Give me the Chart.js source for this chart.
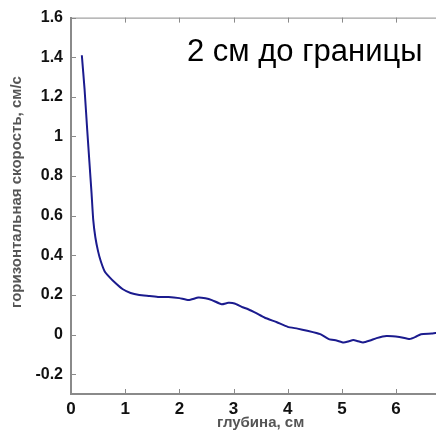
<!DOCTYPE html>
<html>
<head>
<meta charset="utf-8">
<script src="https://cdn.jsdelivr.net/npm/chart.js@4"></script>
<style>
  html, body { margin: 0; padding: 0; background: #fff; overflow: hidden; }
  #wrap { width: 460px; height: 432px; }
</style>
</head>
<body>
<div id="wrap"><canvas id="c" width="460" height="432"></canvas></div>
<script>
// depth (cm) and horizontal speed (cm/s)
const depth = [0.2, 0.25, 0.3, 0.34, 0.38, 0.41, 0.45, 0.5, 0.55, 0.62, 0.71, 0.82, 0.95, 1.1, 1.26, 1.45, 1.62, 1.8, 2.0, 2.17, 2.35, 2.48, 2.6, 2.78, 2.9, 3.02, 3.15, 3.27, 3.42, 3.57, 3.8, 4.0, 4.18, 4.36, 4.6, 4.76, 4.9, 5.03, 5.12, 5.21, 5.3, 5.39, 5.52, 5.64, 5.82, 6.06, 6.25, 6.36, 6.46, 6.66, 6.8];
const speed = [1.41, 1.24, 1.03, 0.87, 0.71, 0.58, 0.49, 0.42, 0.37, 0.32, 0.29, 0.26, 0.23, 0.21, 0.2, 0.195, 0.19, 0.19, 0.184, 0.174, 0.187, 0.183, 0.174, 0.153, 0.16, 0.157, 0.14, 0.128, 0.108, 0.086, 0.062, 0.039, 0.03, 0.019, 0.002, -0.023, -0.03, -0.04, -0.035, -0.028, -0.034, -0.04, -0.03, -0.018, -0.007, -0.012, -0.023, -0.012, 0.002, 0.005, 0.01];

const xTicks = [0, 1, 2, 3, 4, 5, 6, 7];
const yTicks = [-0.2, 0, 0.2, 0.4, 0.6, 0.8, 1, 1.2, 1.4, 1.6];

const titleText = "2 см до границы";
const xLabel = "глубина, см";
const yLabel = "горизонтальная скорость, см/с";

const AXIS = "#8a8a8a";
const FONT = "'Liberation Sans', Arial, sans-serif";

// MATLAB-like box: top line, inward tick marks, annotation and y label
const boxPlugin = {
  id: "box",
  afterDraw(chart) {
    const { ctx, chartArea: a, scales } = chart;
    ctx.save();
    ctx.strokeStyle = AXIS;
    ctx.lineWidth = 1;
    ctx.beginPath();
    ctx.moveTo(a.left, a.top + 0.5);
    ctx.lineTo(a.right, a.top + 0.5);
    scales.x.ticks.forEach(t => {
      const px = Math.round(scales.x.getPixelForValue(t.value)) + 0.5;
      ctx.moveTo(px, a.bottom); ctx.lineTo(px, a.bottom - 5);
      ctx.moveTo(px, a.top); ctx.lineTo(px, a.top + 5);
    });
    scales.y.ticks.forEach(t => {
      const py = Math.round(scales.y.getPixelForValue(t.value)) + 0.5;
      ctx.moveTo(a.left, py); ctx.lineTo(a.left + 5, py);
    });
    ctx.stroke();

    ctx.fillStyle = "#000";
    ctx.font = "31px " + FONT;
    ctx.textAlign = "left";
    ctx.textBaseline = "alphabetic";
    ctx.fillText(titleText, 187, 61);

    // y label sits a bit above the plot middle in the original
    ctx.translate(17, 192);
    ctx.rotate(-Math.PI / 2);
    ctx.fillStyle = "#555";
    ctx.font = "bold 15px " + FONT;
    ctx.textAlign = "center";
    ctx.textBaseline = "middle";
    ctx.fillText(yLabel, 0, 0);
    ctx.restore();
  }
};

new Chart(document.getElementById("c"), {
  type: "line",
  data: {
    datasets: [{
      data: depth.map((d, i) => ({ x: d, y: speed[i] })),
      borderColor: "#1b1b8e",
      borderWidth: 2,
      pointRadius: 0,
      tension: 0.15,
      fill: false
    }]
  },
  options: {
    responsive: false,
    animation: false,
    layout: { padding: { top: 17, right: 5, left: 0, bottom: 0 } },
    plugins: { legend: { display: false }, tooltip: { enabled: false } },
    scales: {
      x: {
        type: "linear",
        min: 0, max: 7,
        afterBuildTicks: s => { s.ticks = xTicks.map(v => ({ value: v })); },
        afterFit: s => { s.height = 38; },
        grid: { display: false, drawTicks: false },
        border: { color: AXIS, width: 2 },
        ticks: {
          padding: 5,
          color: "#111",
          font: { family: FONT, size: 17, weight: "bold" },
          callback: v => String(v)
        },
        title: {
          display: true, text: xLabel, color: "#555",
          padding: { top: -5, bottom: 0 },
          font: { family: FONT, size: 15, weight: "bold" }
        }
      },
      y: {
        min: -0.3, max: 1.6,
        afterBuildTicks: s => { s.ticks = yTicks.map(v => ({ value: v })); },
        afterFit: s => { s.width = 71; },
        grid: { display: false, drawTicks: false },
        border: { color: AXIS, width: 2 },
        ticks: {
          padding: 8,
          color: "#111",
          font: { family: FONT, size: 16, weight: "bold" },
          callback: v => String(Math.round(v * 10) / 10)
        },
        title: { display: false }
      }
    }
  },
  plugins: [boxPlugin]
});
</script>
</body>
</html>
